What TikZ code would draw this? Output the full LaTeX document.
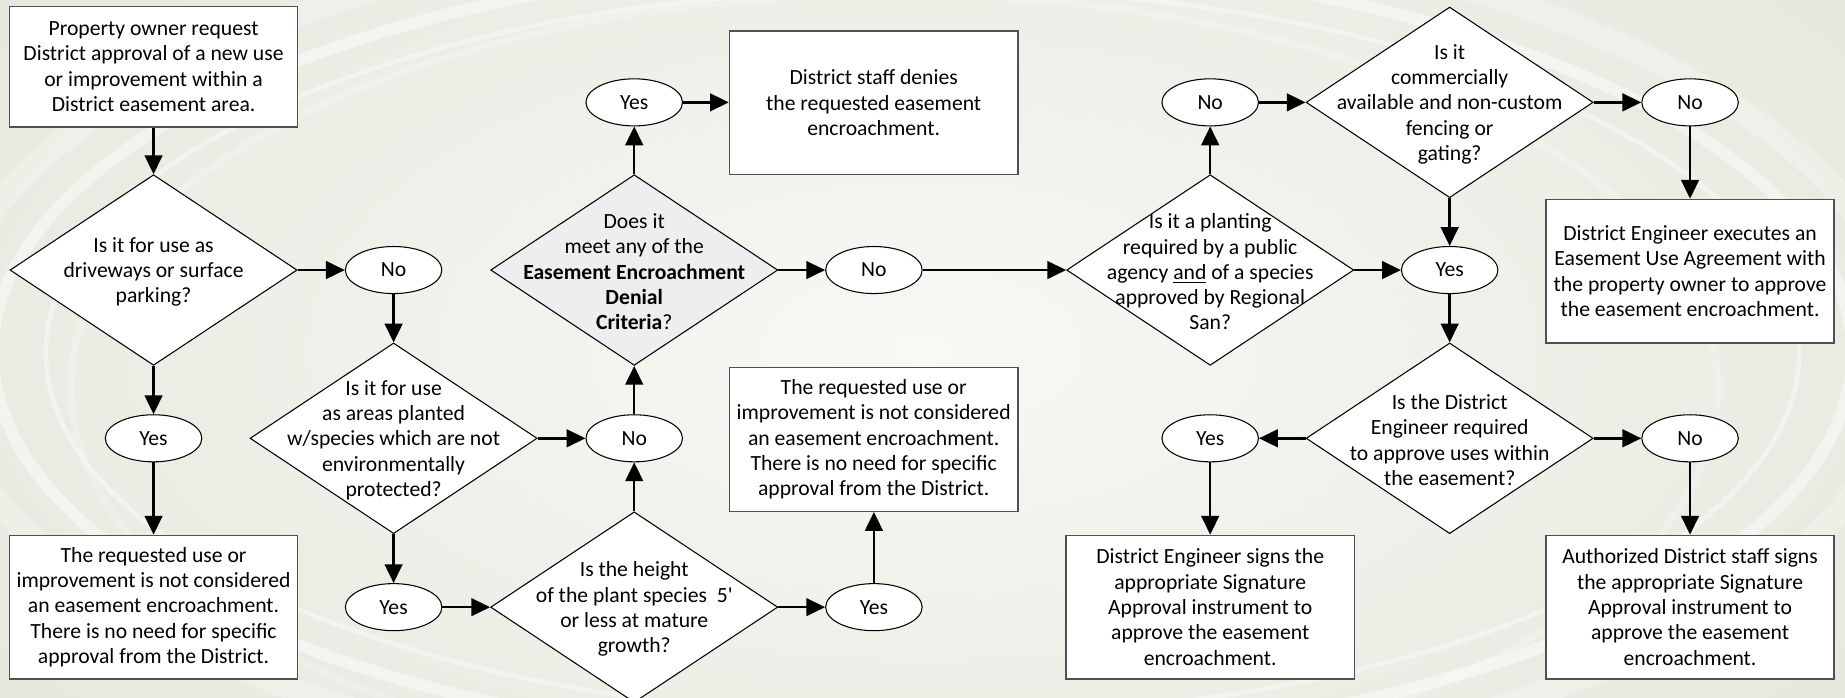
\documentclass[tikz,border=0pt]{standalone}
\usepackage{fontspec}
\setmainfont{Carlito}
\usetikzlibrary{shapes.geometric,arrows.meta}
\newcommand\dfont{\fontsize{9.2pt}{10.75pt}\selectfont}
\definecolor{bgin}{RGB}{248,248,245}
\definecolor{bgout}{RGB}{228,231,219}
\definecolor{boxline}{RGB}{80,80,80}
\definecolor{dgray}{RGB}{238,238,240}
\begin{document}
\begin{tikzpicture}[x=0.5pt,y=-0.5pt,
  box/.style={draw=boxline, line width=0.6pt, fill=white, minimum width=122.5pt, minimum height=61pt, inner sep=0pt, font=\dfont, align=center},
  dia/.style={diamond, draw=black, line width=0.45pt, fill=white, minimum width=122pt, minimum height=81pt, inner sep=0pt},
  dtext/.style={font=\dfont, align=center, inner sep=0pt, yshift=-0.8pt},
  oval/.style={ellipse, draw=black, line width=0.45pt, fill=white, minimum width=41pt, minimum height=20pt, inner sep=0pt, font=\dfont},
  arr/.style={line width=1.05pt, -{Triangle[length=8pt,width=7.5pt]}},
  swirl/.style={draw=white, line cap=round}
]
\useasboundingbox (0,0) rectangle (1568,593);
\begin{scope}
\clip (0,0) rectangle (1568,593);
\shade[inner color=bgin, outer color=bgout] (-300,-250) rectangle (1868,843);
\draw[swirl, opacity=0.45, line width=5pt] (784,300) ellipse [x radius=790, y radius=335];
\draw[swirl, opacity=0.25, line width=10pt] (784,300) ellipse [x radius=835, y radius=372];
\draw[swirl, opacity=0.4, line width=2pt] (784,300) ellipse [x radius=745, y radius=310];
\draw[swirl, opacity=0.2, line width=3pt] (760,330) ellipse [x radius=700, y radius=335];
\end{scope}

% boxes
\node[box, minimum height=51.25pt] (start) at (130.5,56.7) {Property owner request\\District approval of a new use\\or improvement within a\\District easement area.};
\node[box] (end1) at (130.5,516) {The requested use or\\improvement is not considered\\an easement encroachment.\\There is no need for specific\\approval from the District.};
\node[box] (end2) at (742.5,373.5) {The requested use or\\improvement is not considered\\an easement encroachment.\\There is no need for specific\\approval from the District.};
\node[box] (deny) at (742.5,87.3) {District staff denies\\the requested easement\\encroachment.};
\node[box] (eua) at (1436.3,230.5) {District Engineer executes an\\Easement Use Agreement with\\the property owner to approve\\the easement encroachment.};
\node[box] (des) at (1028.5,516) {District Engineer signs the\\appropriate Signature\\Approval instrument to\\approve the easement\\encroachment.};
\node[box] (auth) at (1436.3,516) {Authorized District staff signs\\the appropriate Signature\\Approval instrument to\\approve the easement\\encroachment.};

% diamonds
\node[dia] (d1) at (130.5,229.5) {};
\node[dtext] (t1) at (d1) {Is it for use as\\driveways or surface\\parking?};
\node[dia] (d2) at (334.5,372.5) {};
\node[dtext] (t2) at (d2) {Is it for use\\as areas planted\\w/species which are not\\environmentally\\protected?};
\node[dia] (d3) at (539,516) {};
\node[dtext] (t3) at (d3) {Is the height\\of the plant species\ \ 5\textquotesingle\\or less at mature\\growth?};
\node[dia, fill=dgray] (d4) at (539,229.5) {};
\node[dtext] (t4) at (d4) {Does it\\meet any of the\\\textbf{Easement Encroachment}\\\textbf{Denial}\\\textbf{Criteria}?};
\node[dia] (d5) at (1028.5,229.5) {};
\node[dtext] (t5) at (d5) {Is it a planting\\required by a public\\agency \underline{and} of a species\\approved by Regional\\San?};
\node[dia] (d6) at (1232,87) {};
\node[dtext] (t6) at (d6) {Is it\\commercially\\available and non-custom\\fencing or\\gating?};
\node[dia] (d7) at (1232,372.5) {};
\node[dtext] (t7) at (d7) {Is the District\\Engineer required\\to approve uses within\\the easement?};

% ovals
\node[oval] (no1) at (334.5,229.5) {No};
\node[oval] (yes1) at (130.5,372.5) {Yes};
\node[oval] (no2) at (539,372.5) {No};
\node[oval] (yes2) at (334.5,516) {Yes};
\node[oval] (yes3) at (742.7,516) {Yes};
\node[oval] (yes4) at (539,87) {Yes};
\node[oval] (no4) at (742.7,229.5) {No};
\node[oval] (no5) at (1028.5,87) {No};
\node[oval] (no6) at (1436.3,87) {No};
\node[oval] (yes5) at (1232,229.5) {Yes};
\node[oval] (yes7) at (1028.5,372.5) {Yes};
\node[oval] (no7) at (1436.3,372.5) {No};

% connectors
\draw[arr] (start.south) -- (d1.north);
\draw[arr] (d1.east) -- (no1.west);
\draw[arr] (d1.south) -- (yes1.north);
\draw[arr] (yes1.south) -- (end1.north);
\draw[arr] (no1.south) -- (d2.north);
\draw[arr] (d2.east) -- (no2.west);
\draw[arr] (d2.south) -- (yes2.north);
\draw[arr] (yes2.east) -- (d3.west);
\draw[arr] (d3.north) -- (no2.south);
\draw[arr] (d3.east) -- (yes3.west);
\draw[arr] (yes3.north) -- (yes3.north |- end2.south);
\draw[arr] (no2.north) -- (d4.south);
\draw[arr] (d4.north) -- (yes4.south);
\draw[arr] (yes4.east) -- (yes4.east -| deny.west);
\draw[arr] (d4.east) -- (no4.west);
\draw[arr] (no4.east) -- (d5.west);
\draw[arr] (d5.north) -- (no5.south);
\draw[arr] (no5.east) -- (d6.west);
\draw[arr] (d6.east) -- (no6.west);
\draw[arr] (no6.south) -- (no6.south |- eua.north);
\draw[arr] (d6.south) -- (yes5.north);
\draw[arr] (d5.east) -- (yes5.west);
\draw[arr] (yes5.south) -- (d7.north);
\draw[arr] (d7.west) -- (yes7.east);
\draw[arr] (d7.east) -- (no7.west);
\draw[arr] (yes7.south) -- (des.north);
\draw[arr] (no7.south) -- (auth.north);
\end{tikzpicture}
\end{document}
